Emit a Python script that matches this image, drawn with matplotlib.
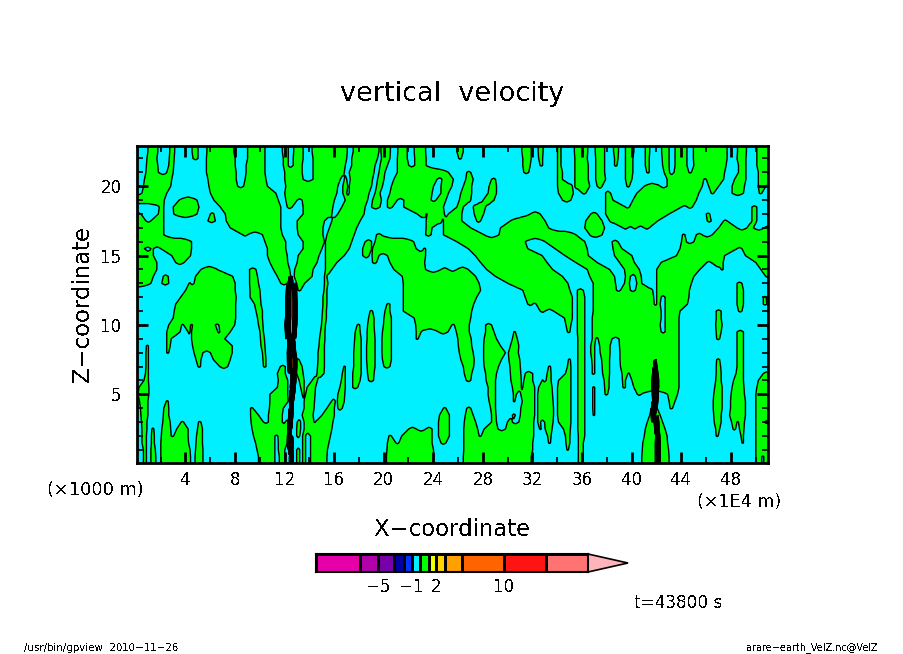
import numpy as np
import matplotlib
matplotlib.use("Agg")
import matplotlib.pyplot as plt
from matplotlib.colors import ListedColormap, BoundaryNorm

plt.rcParams["text.antialiased"] = False

# contour levels of the colour bar (m/s)
levels = [-20, -10, -5, -3, -2, -1, 0, 1, 2, 3, 5, 10, 20, 50]
level_colors = ["#e600aa", "#af00aa", "#7800aa", "#0000a0", "#0032ff", "#00f0ff", "#00ff00",
                "#f0ff00", "#ffd200", "#ffa000", "#ff6400", "#ff1414", "#ff7373"]
over_color = "#ffb4b9"
bar_tick_values = [-5, -1, 2, 10]
bar_widths = [44, 18, 16, 10, 8, 8, 9, 7, 9, 17, 42, 42, 42]

x_ticks = [4, 8, 12, 16, 20, 24, 28, 32, 36, 40, 44, 48]
z_ticks = [5, 10, 15, 20]

# heights of the rows
z_rows = [22.5 - 0.5 * i for i in range(45)]

# where w > 0 (green) along each row: start, end, start, end, ... in x units
green_bands = [
    [.96,1.76,2.73,3.14,4.53,5.02,5.74,7.89,9.02,10.39,11.79,12.3,12.73,13.49,14.21,17.03,17.52,19.59,19.77,20.53,21.12,21.87,22.46,23.35,25.9,26.4,31.14,31.89,32.43,32.83,34.02,34.28,35.36,36.44,37.05,37.81,38.53,38.94,39.47,40.15,41.09,41.44,42.4,43.0,43.5,44.45,44.95,47.67,48.53,49.23,50.09,51.2],
    [.9,1.7,2.7,3.1,4.6,5.0,5.7,8.0,9.0,10.4,11.9,12.3,12.7,13.5,14.3,17.0,17.4,19.5,19.8,20.5,21.1,21.9,22.5,23.4,26.05,26.25,31.2,31.9,32.5,32.8,34.0,34.3,35.4,36.4,37.1,37.8,38.6,38.9,39.5,40.1,41.1,41.4,42.45,43.0,43.5,44.45,44.95,47.7,48.5,49.2,50.1,51.2],
    [.85,1.76,2.65,3.05,5.7,8.0,8.9,10.4,11.9,12.3,12.7,13.4,14.3,16.9,17.4,19.3,19.7,20.3,21.1,22.0,22.5,23.4,31.2,31.8,32.6,32.8,34.0,34.3,35.4,36.5,37.1,37.8,38.6,38.8,39.5,40.1,41.1,41.4,42.5,43.0,43.5,44.45,45.0,47.6,48.6,49.2,50.1,51.2],
    [.8,1.8,2.5,3.0,5.7,8.1,8.9,10.4,12.0,13.4,14.3,16.8,17.2,19.2,19.6,20.1,21.1,25.2,26.7,27.0,31.3,31.7,34.0,34.4,35.4,36.5,37.1,37.8,39.5,40.1,41.2,41.4,42.6,43.05,43.4,44.6,44.8,47.5,48.6,49.2,50.2,51.2],
    [.7,2.9,5.8,8.1,8.8,10.5,12.0,13.5,14.3,16.5,16.8,17.0,17.3,19.1,19.5,20.0,20.8,24.3,24.7,25.6,26.6,27.2,28.7,29.0,34.0,34.4,35.4,36.5,37.1,37.9,39.5,40.0,42.85,45.8,46.0,47.4,48.3,49.2,50.2,51.2],
    [.6,2.8,5.9,8.2,8.7,10.6,12.1,16.3,16.7,17.1,17.2,19.0,19.4,19.9,20.6,24.0,24.6,25.5,26.4,27.1,28.5,29.1,34.0,35.2,35.4,36.6,37.2,37.6,39.6,39.8,41.0,42.3,42.85,45.7,46.2,47.0,48.1,49.1,50.2,50.8],
    [.5,2.5,6.0,11.3,12.0,16.2,16.7,17.0,17.2,18.8,19.3,19.7,20.5,23.9,24.6,25.2,26.2,27.1,28.4,29.1,34.1,35.3,36.0,36.3,37.9,38.3,40.4,45.4,46.4,46.6,48.1,49.0,50.3,50.5],
    [-.1,2.3,3.5,4.9,6.3,11.5,12.1,13.0,13.4,16.0,16.9,18.7,19.1,19.8,20.3,21.1,21.6,23.8,24.2,25.0,26.1,27.0,28.0,28.9,34.4,35.1,37.9,38.5,40.1,45.2],
    [1.9,2.25,3.0,5.1,6.8,11.7,12.2,12.6,13.5,15.9,16.6,18.5,19.0,19.7,20.3,20.7,21.6,24.8,25.9,26.4,27.2,28.2,37.9,39.5,39.8,44.0,44.5,44.9,49.7,50.1],
    [-.1,.4,1.8,2.25,3.05,4.9,6.0,6.3,7.2,11.7,13.5,15.8,16.3,18.4,22.7,23.4,23.5,24.9,25.2,26.3,27.3,28.05,31.8,32.6,36.7,37.2,37.9,43.0,46.0,46.3,49.7,50.1],
    [-.1,.8,1.2,2.25,5.8,6.4,7.3,11.7,13.0,15.2,15.8,18.1,23.4,24.7,24.8,26.3,27.5,27.8,30.2,33.0,36.3,37.6,38.2,42.1,46.1,46.4,47.4,47.7,49.7,50.1],
    [-.1,2.25,7.6,11.7,13.0,15.1,15.6,17.8,23.4,23.9,24.8,27.0,29.4,33.3,36.2,37.8,39.3,39.7,40.1,40.4,41.0,41.4,47.0,48.5,49.3,49.8,50.7,51.2],
    [-.1,2.25,8.6,9.0,10.2,11.8,13.1,15.1,15.4,17.6,19.4,19.8,23.35,23.8,24.8,28.1,29.3,35.5,36.6,37.6,44.1,44.3,45.2,45.7,46.5,51.2],
    [-.1,4.5,10.4,12.1,13.5,15.2,15.3,17.4,18.5,19.0,19.3,22.4,25.9,31.4,33.0,36.2,38.4,38.9,44.0,44.4,45.0,51.2],
    [-.1,.7,1.2,1.4,2.0,4.5,10.6,12.1,13.5,15.0,15.3,17.2,18.3,19.0,19.1,22.6,23.2,23.35,26.8,31.6,33.8,36.4,38.5,39.2,43.9,48.5,48.9,51.2],
    [-.1,1.4,2.9,4.4,10.6,12.2,13.1,14.75,15.3,16.8,18.3,18.8,19.05,19.6,20.3,23.35,27.35,32.75,34.6,36.5,38.6,40.0,43.6,47.5,49.15,51.2],
    [-.1,1.7,3.2,3.9,10.8,12.25,13.0,14.6,15.3,16.2,19.1,19.4,20.5,23.3,27.8,33.15,35.5,37.2,39.0,40.2,42.35,46.05,46.4,47.35,50.0,51.2],
    [-.1,1.7,5.25,6.55,9.15,9.7,11.1,12.4,12.8,14.3,15.3,15.8,20.8,23.35,24.6,25.2,25.9,26.8,28.3,33.6,36.4,38.2,39.4,40.6,42.0,45.5,47.2,47.35,50.4,51.2],
    [-.1,1.4,2.2,2.6,4.8,7.8,9.15,9.8,11.4,12.5,12.75,14.2,15.2,15.4,21.5,27.4,29.0,34.4,36.6,38.6,39.5,39.9,40.3,40.75,42.0,45.0,50.8,51.2],
    [-.1,1.2,2.1,2.65,4.3,4.4,4.7,8.0,9.15,9.9,11.7,12.2,12.95,13.6,15.2,15.5,21.55,27.7,30.0,34.85,36.9,38.7,39.4,39.8,40.4,40.8,42.0,44.8,48.5,48.9],
    [4.0,8.0,9.2,10.0,13.1,13.3,15.15,15.4,21.55,27.8,31.2,35.0,35.6,36.1,36.9,38.75,39.1,39.9,40.3,41.7,42.0,44.65,48.5,49.0],
    [3.6,8.1,9.2,10.05,15.1,15.4,21.55,27.5,31.4,35.2,35.6,36.2,36.9,41.75,42.0,42.35,42.7,44.6,48.5,49.0,50.6,50.85],
    [3.2,8.05,9.55,10.1,15.1,15.4,20.25,20.5,21.55,27.25,31.6,32.0,32.3,35.2,35.6,36.2,36.9,41.8,42.0,42.3,42.7,44.5,48.5,49.0,50.6,50.9],
    [3.1,8.05,9.7,10.2,15.05,15.35,18.9,19.1,20.1,20.5,21.55,27.1,32.6,33.0,33.7,35.2,35.6,36.2,36.9,42.35,42.7,43.9,46.8,47.2,48.6,48.9],
    [3.0,8.05,9.8,10.2,15.0,15.35,18.75,19.2,20.0,20.6,22.45,27.0,34.55,35.2,35.6,36.2,36.8,42.35,42.7,43.8,46.8,47.2],
    [2.65,3.7,3.85,4.4,4.55,6.4,6.7,7.95,9.9,10.25,14.95,15.3,17.85,18.05,18.7,19.2,19.95,20.6,22.55,25.5,25.7,26.9,28.2,28.7,34.7,35.1,35.6,36.2,36.8,42.3,42.7,43.8,46.75,47.3],
    [2.5,3.55,4.2,4.35,4.5,6.6,6.75,7.6,10.0,10.3,14.9,15.25,17.7,18.1,18.65,19.25,19.9,20.6,22.6,23.0,24.4,25.15,25.85,26.9,28.2,28.9,30.5,30.6,34.8,35.0,35.6,36.2,36.8,42.35,42.7,43.8,46.8,47.2,48.5,49.0],
    [2.5,2.85,4.5,7.15,10.05,10.35,14.8,15.25,17.65,18.15,18.65,19.3,19.85,20.6,22.6,22.75,25.95,27.05,28.1,29.1,30.35,30.75,35.65,36.2,36.8,37.1,37.3,38.4,38.95,43.8,46.85,47.1,48.5,49.0],
    [.85,1.0,2.5,2.75,4.55,7.75,10.1,10.4,14.75,15.2,17.6,18.15,18.6,19.3,19.85,20.6,26.0,27.1,28.05,29.4,30.2,30.9,35.65,36.2,36.7,37.0,37.4,38.25,39.0,43.8,48.5,49.0],
    [.8,1.0,2.5,2.65,4.7,5.4,6.0,7.75,10.2,10.45,14.7,15.2,17.55,18.15,18.6,19.3,19.85,20.6,26.1,27.2,28.05,29.8,30.05,30.85,35.65,36.2,36.7,37.0,37.45,38.25,39.05,43.8,48.5,49.0],
    [.8,1.0,4.85,5.25,6.25,7.6,10.25,10.5,12.95,13.15,14.7,15.2,17.55,18.15,18.6,19.3,19.9,20.6,26.2,27.3,28.05,29.5,30.1,30.95,34.9,35.05,35.65,36.2,36.75,37.0,37.55,38.2,39.05,43.8,46.85,47.1,48.5,49.0],
    [.8,1.0,5.0,5.2,6.75,7.4,10.3,10.5,11.65,12.05,12.95,13.4,14.65,15.2,16.75,16.9,17.55,18.15,18.65,19.3,20.0,20.5,26.4,27.25,28.1,29.25,30.15,31.0,33.3,33.45,34.8,35.1,35.65,36.2,36.8,37.0,37.6,38.2,39.1,43.8,46.8,47.15,48.5,49.0],
    [.75,1.0,11.4,12.05,12.95,13.5,14.6,15.15,16.65,16.9,17.5,18.15,18.7,19.2,26.5,27.1,28.2,29.1,30.2,31.05,31.4,32.0,33.15,33.5,34.65,35.1,35.65,36.2,36.8,37.0,37.65,38.2,39.2,39.7,39.8,43.8,46.8,47.2,48.4,49.0,50.6,51.2],
    [.65,1.0,11.5,12.25,13.15,13.55,14.2,14.65,16.55,16.9,17.5,18.1,18.75,19.15,26.65,27.0,28.25,29.0,30.25,31.1,31.3,32.0,32.75,32.85,33.1,33.5,34.1,35.1,35.65,36.2,37.75,38.15,39.25,39.5,40.0,43.8,46.75,47.2,48.2,49.0,50.2,51.2],
    [.25,1.05,11.4,12.25,13.3,13.55,13.8,14.5,16.45,16.9,17.5,17.9,28.4,29.0,30.35,31.1,31.2,32.15,32.5,33.55,34.0,35.1,35.65,36.2,36.85,37.0,37.8,38.15,39.3,39.5,40.15,43.8,46.7,47.3,48.1,49.05,50.1,51.2],
    [.15,1.05,10.8,12.25,13.4,13.55,13.7,14.45,16.3,16.85,28.4,29.0,30.45,30.7,31.05,32.15,32.4,33.6,34.0,35.1,35.65,36.2,36.85,37.0,37.85,38.05,40.45,40.75,42.9,43.7,46.6,47.3,48.0,49.1,50.0,51.2],
    [.3,.95,2.45,2.6,10.8,12.3,13.55,14.4,15.75,16.1,16.25,16.8,28.5,29.0,30.45,30.55,31.15,32.15,32.4,33.65,34.0,35.1,35.65,36.2,36.85,37.0,43.0,43.5,46.55,47.3,47.95,49.15,50.0,51.2],
    [.35,.95,2.25,2.65,9.25,9.45,10.75,11.9,13.55,14.35,15.4,16.0,16.3,16.65,24.8,25.0,26.7,27.0,28.6,29.0,31.05,32.15,32.4,33.7,34.0,35.1,35.65,36.2,36.85,37.0,41.55,42.05,43.1,43.3,46.55,47.3,47.95,49.15,50.0,51.2],
    [.4,.95,2.2,2.65,9.25,9.9,10.7,11.8,13.4,14.3,15.0,16.0,24.5,25.3,26.55,27.2,28.7,29.05,30.35,30.6,31.0,32.15,32.4,33.7,34.0,35.1,35.65,36.2,36.9,37.0,41.45,42.3,46.6,47.2,47.9,49.15,50.0,51.2],
    [.45,.9,2.15,2.75,3.65,3.85,5.05,5.25,9.3,10.3,10.7,11.8,12.05,12.35,13.0,13.3,13.55,14.35,14.5,15.9,24.4,25.3,26.5,27.4,28.7,29.1,29.95,30.35,30.9,32.1,32.4,32.65,32.95,33.65,34.1,35.1,35.65,36.2,41.25,42.5,46.65,47.2,48.05,48.5,48.6,49.1,50.0,50.7],
    [.5,.9,1.3,1.45,2.1,2.8,3.3,4.2,4.95,5.35,9.35,12.35,12.95,13.3,13.55,15.8,22.0,22.6,23.35,23.9,24.4,25.3,26.45,27.55,28.1,29.2,29.8,32.1,32.55,32.7,33.0,33.55,34.5,35.05,35.65,36.2,41.1,42.7,46.75,47.1,48.15,48.35,48.7,49.05,50.0,51.2],
    [.5,.85,1.25,1.5,2.05,2.85,3.05,4.2,4.9,5.35,9.5,11.2,11.45,12.2,12.95,13.2,13.45,13.7,14.1,15.7,20.4,20.6,21.45,23.9,24.4,25.3,26.45,27.7,27.85,32.1,33.2,33.5,34.65,35.0,35.7,36.2,41.0,42.85,46.8,46.95,48.8,49.0,50.0,51.2],
    [.5,.85,1.25,1.5,2.0,4.25,4.85,5.35,9.65,11.2,11.5,12.2,13.45,13.7,14.1,15.55,20.3,20.95,21.2,23.9,24.6,25.0,26.45,32.0,33.3,33.45,34.7,35.0,35.7,36.1,40.9,42.9,48.9,49.0,50.0,51.2],
    [.6,.85,1.2,1.55,2.0,4.35,4.8,5.4,9.75,11.2,11.5,12.0,12.95,13.2,13.45,13.7,14.1,15.45,20.25,24.0,26.45,32.0,34.75,34.9,35.7,36.1,40.85,42.95,50.0,51.2],
    [.6,.85,1.2,1.6,2.0,4.4,4.75,5.4,9.9,11.2,11.55,12.0,12.95,13.2,13.45,13.7,14.1,15.4,20.2,24.0,26.4,31.9,35.7,36.1,40.8,43.0,50.0,50.5,50.65,51.2],
]

# the two narrow updraft cores: height, centre and half width
core1_z = [13, 12.5, 12, 11.5, 11, 10.5, 10, 9.5, 9, 8.5, 8, 7.5, 7, 6.5, 6, 5.5, 5, 4.5, 4, 3.5, 3, 2.5, 2, 1.5, 1, .5]
core1_x = [12.5, 12.55, 12.55, 12.55, 12.55, 12.55, 12.5, 12.5, 12.5, 12.55, 12.55, 12.6, 12.6, 12.7, 12.7, 12.65, 12.6, 12.55, 12.55, 12.5, 12.45, 12.4, 12.4, 12.45, 12.5, 12.55]
core1_hw = [.15, .4, .43, .44, .44, .44, .48, .44, .24, .28, .33, .36, .35, .2, .2, .18, .15, .14, .13, .15, .14, .12, .11, .22, .13, .14]
core2_z = [7, 6.5, 6, 5.5, 5, 4.5, 4, 3.5, 3, 2.5, 2, 1.5, 1, .5]
core2_x = [41.9, 41.9, 41.9, 41.9, 41.9, 41.9, 41.8, 41.75, 42.0, 42.05, 42.1, 42.1, 42.1, 42.1]
core2_hw = [.1, .2, .25, .25, .22, .18, .15, .15, .16, .16, .16, .17, .17, .17]
# w across a core, from one side to the other
core_profile = [0, -8, 30, -12, 7, 7, 7, -15, 25, 0]

x = np.arange(0.1, 51.0, 0.04)


def row_field(bands):
    inside = np.zeros(x.size, dtype=bool)
    for a, b in zip(bands[::2], bands[1::2]):
        inside |= (x >= a) & (x <= b)
    edges = x[1:][inside[1:] != inside[:-1]]
    if edges.size == 0:
        return np.where(inside, 0.9, -0.9)
    dist = np.abs(x[:, None] - edges[None, :]).min(axis=1)
    return np.clip(np.where(inside, dist, -dist), -0.9, 0.9)


w = np.array([row_field(b) for b in green_bands])

offsets = np.linspace(-1, 1, len(core_profile))
for zs, xs, hws in [(core1_z, core1_x, core1_hw), (core2_z, core2_x, core2_hw)]:
    for zc, xc, hw in zip(zs, xs, hws):
        j = z_rows.index(zc)
        u = (x - xc) / hw
        near = np.abs(u) < 1
        w[j, near] = np.interp(u[near], offsets, core_profile)

# repeat the first and last rows up to the frame, lowest height first
z = np.array([23.0] + z_rows + [0.0])[::-1]
w = np.vstack([w[0], w, w[-1]])[::-1]

fig = plt.figure(figsize=(9.04, 6.54), dpi=100)
ax = fig.add_axes([137 / 904, 1 - 463 / 654, 631 / 904, 317 / 654])

cmap = ListedColormap(level_colors)
cmap.set_over(over_color)
norm = BoundaryNorm(levels, cmap.N)
ax.contourf(x, z, w, levels=levels, cmap=cmap, norm=norm, extend="max", antialiased=False)
ax.contour(x, z, w, levels=levels, colors="k", linewidths=1.0, linestyles="solid")

ax.set_xlim(0.1, 51.0)
ax.set_ylim(0.05, 22.9)
ax.set_xticks(x_ticks)
ax.set_yticks(z_ticks)
ax.set_xticks(np.arange(2, 51, 2), minor=True)
ax.set_yticks(np.arange(1, 23), minor=True)
ax.tick_params(which="major", direction="in", length=8, width=2, top=True, right=True,
               labelsize=12)
ax.tick_params(which="minor", direction="in", length=4, width=1.2, top=True, right=True)
ax.tick_params(axis="x", which="major", pad=6)
ax.tick_params(axis="y", which="major", pad=11)
for s in ax.spines.values():
    s.set_linewidth(2)


def put(px, py, s, size, **kw):
    fig.text(px / 904, 1 - py / 654, s, fontsize=size, ha=kw.pop("ha", "center"), va="center", **kw)


put(452, 94, "vertical  velocity", 19.5)
put(452, 530, "X\u2212coordinate", 16.4)
put(83, 304, "Z\u2212coordinate", 16.4, rotation=90)
put(95, 490, "(\u00d71000 m)", 12.8)
put(739, 502, "(\u00d71E4 m)", 12.6)
put(678, 603, "t=43800 s", 12.2)
put(24, 648, "/usr/bin/gpview  2010\u221211\u221226", 7.4, ha="left")
put(878, 648, "arare\u2212earth_VelZ.nc@VelZ", 7, ha="right")

# colour bar with uneven box widths and an arrow for values above the top level
cax = fig.add_axes([316 / 904, 1 - 572 / 654, 272 / 904, 18 / 654])
bar_edges = np.concatenate([[0], np.cumsum(bar_widths)])
cax.pcolormesh(bar_edges, [0, 1], [np.arange(len(bar_widths))], cmap=cmap,
               edgecolors="k", linewidth=1.0)
cax.fill([bar_edges[-1], bar_edges[-1] + 40, bar_edges[-1]], [1, 0.5, 0],
         facecolor=over_color, edgecolor="k", linewidth=1.2, clip_on=False)
cax.set_xlim(0, bar_edges[-1])
cax.set_ylim(0, 1)
cax.set_yticks([])
cax.set_xticks([bar_edges[levels.index(v)] for v in bar_tick_values])
cax.set_xticklabels([str(v).replace("-", "\u2212") for v in bar_tick_values], fontsize=12)
cax.tick_params(axis="x", length=0, pad=4)
for s in cax.spines.values():
    s.set_linewidth(1.5)

fig.savefig("out.png", dpi=100)
